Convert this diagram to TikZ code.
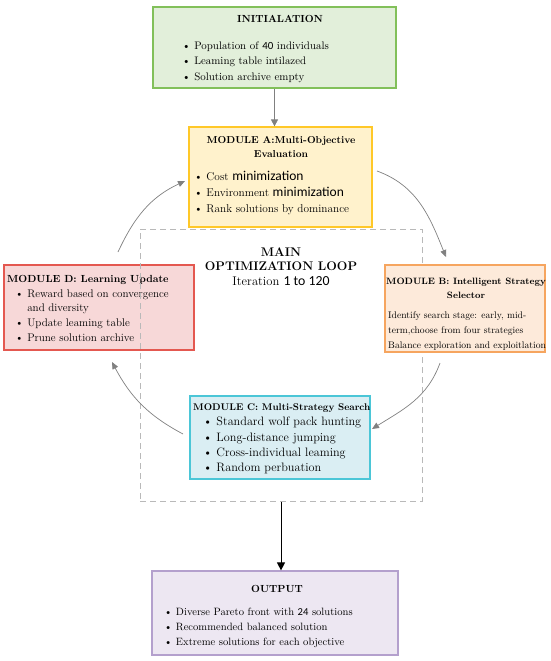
\documentclass[tikz,border=0pt]{standalone}
\usepackage{fontspec}
\newfontfamily\numfont{Carlito}
\usetikzlibrary{arrows.meta}
\definecolor{initfill}{RGB}{226,239,218}
\definecolor{initdraw}{RGB}{130,192,90}
\definecolor{afill}{RGB}{255,242,204}
\definecolor{adraw}{RGB}{255,200,40}
\definecolor{dfill}{RGB}{247,216,216}
\definecolor{ddraw}{RGB}{228,88,80}
\definecolor{bfill}{RGB}{253,234,218}
\definecolor{bdraw}{RGB}{246,165,95}
\definecolor{cfill}{RGB}{218,238,243}
\definecolor{cdraw}{RGB}{75,198,215}
\definecolor{ofill}{RGB}{237,231,242}
\definecolor{odraw}{RGB}{180,160,205}
\definecolor{arrgray}{RGB}{128,128,128}
\definecolor{dashgray}{RGB}{185,185,185}
\tikzset{
  box/.style={draw, line width=1.2pt, inner sep=0pt},
  ttl/.style={font=\fontsize{10.3}{14.5}\selectfont\bfseries, inner sep=0pt, align=center},
  txt/.style={font=\fontsize{10.8}{15.2}\selectfont, inner sep=0pt, align=left},
  grayarr/.style={draw=arrgray, line width=0.8pt, -{Triangle[length=7pt,width=7pt]}},
  curvarr/.style={draw=arrgray, line width=0.7pt, -{Triangle[length=7pt,width=6pt]}},
}
\newcommand{\bl}{\textbullet\ }
\begin{document}
\begin{tikzpicture}[x=1pt,y=1pt]
\useasboundingbox (0,0) rectangle (550,-661);
% INITIALATION
\node[box, fill=initfill, draw=initdraw, minimum width=243, minimum height=81] (init) at (274.5,-47.5) {};
\node[ttl] (initT) at (280,-19) {INITIALATION};
\node[txt, font=\fontsize{10.9}{15.4}\selectfont, anchor=west] (initB) at (182,-62) {\bl Population of {\numfont 40} individuals\\ \bl Leaming table intilazed\\ \bl Solution archive empty};
% MODULE A
\node[box, fill=afill, draw=adraw, minimum width=183, minimum height=100] (A) at (280.5,-177) {};
\node[ttl, font=\fontsize{10.1}{14.5}\selectfont\bfseries] (AT) at (281,-147) {MODULE A:Multi-Objective\\Evaluation};
\node[txt, font=\fontsize{11.3}{16}\selectfont, anchor=west] (AB) at (194,-193) {\bl Cost {\numfont\fontsize{13.5}{15}\selectfont minimization}\\ \bl Environment {\numfont\fontsize{13.5}{15}\selectfont minimization}\\ \bl Rank solutions by dominance};
% MODULE D (under dashed loop)
\node[box, fill=dfill, draw=ddraw, minimum width=190, minimum height=85] (D) at (99,-307.5) {};
\node[ttl, anchor=west] (DT) at (7,-280) {MODULE D: Learning Update};
\node[txt, font=\fontsize{11.1}{14.6}\selectfont, anchor=west] (DB) at (15,-315.5) {\bl Reward based on convergence\\ \phantom{\textbullet}\ and diversity\\ \bl Update leaming table\\ \bl Prune solution archive};
% dashed loop
\node[draw=dashgray, dashed, dash pattern=on 6pt off 4pt, line width=1pt, minimum width=282, minimum height=272, inner sep=0pt] (loop) at (281,-365) {};
\node[font=\fontsize{12.5}{14.5}\selectfont\bfseries, align=center, inner sep=0pt] (loopT) at (281,-259) {MAIN\\OPTIMIZATION LOOP};
\node[font=\fontsize{12.6}{14}\selectfont, inner sep=0pt] (loopI) at (281,-281) {Iteration {\numfont\fontsize{13.8}{14}\selectfont 1 to 120}};
% MODULE B
\node[box, fill=bfill, draw=bdraw, minimum width=160, minimum height=87] (B) at (465,-308.5) {};
\node[ttl, font=\fontsize{9.2}{14.5}\selectfont\bfseries] (BT) at (466,-288.5) {MODULE B: Intelligent Strategy\\Selector};
\node[txt, font=\fontsize{9.6}{15}\selectfont, anchor=west] (BB) at (388,-331) {Identify search stage: early, mid-\\term,choose from four strategies\\Balance exploration and exploitlation};
% MODULE C
\node[box, fill=cfill, draw=cdraw, minimum width=180, minimum height=83] (C) at (280,-437.5) {};
\node[ttl, font=\fontsize{9.7}{14.5}\selectfont\bfseries, anchor=west] (CT) at (193,-408) {MODULE C: Multi-Strategy Search};
\node[txt, font=\fontsize{12.2}{15.2}\selectfont, anchor=west] (CB) at (203,-445.5) {\bl Standard wolf pack hunting\\ \bl Long-distance jumping\\ \bl Cross-individual leaming\\ \bl Random perbuation};
% OUTPUT
\node[box, fill=ofill, draw=odraw, minimum width=246, minimum height=84] (out) at (275,-613) {};
\node[ttl] (outT) at (277,-589) {OUTPUT};
\node[txt, font=\fontsize{10.6}{15.2}\selectfont, anchor=west] (outB) at (164,-628) {\bl Diverse Pareto front with {\numfont 24} solutions\\ \bl Recommended balanced solution\\ \bl Extreme solutions for each objective};
% straight arrows
\draw[grayarr] (init.south) -- (init.south |- A.north);
\draw[black, line width=1pt, -{Triangle[length=8pt,width=8pt]}] (loop.south) -- (loop.south |- out.north);
% curved arrows
\coordinate (d1) at (118,-252);
\coordinate (a1) at (185,-181);
\coordinate (a2) at (377,-171);
\coordinate (b1) at (446,-257);
\coordinate (b2) at (440,-363);
\coordinate (c1) at (372,-429);
\coordinate (c2) at (183,-434);
\coordinate (d2) at (112,-362);
\draw[curvarr] (d1) to[out=65, in=205] (a1);
\draw[curvarr] (a2) to[out=-20, in=112] (b1);
\draw[curvarr] (b2) to[out=-110, in=32] (c1);
\draw[curvarr] (c2) to[out=152, in=-62] (d2);
\end{tikzpicture}
\end{document}
